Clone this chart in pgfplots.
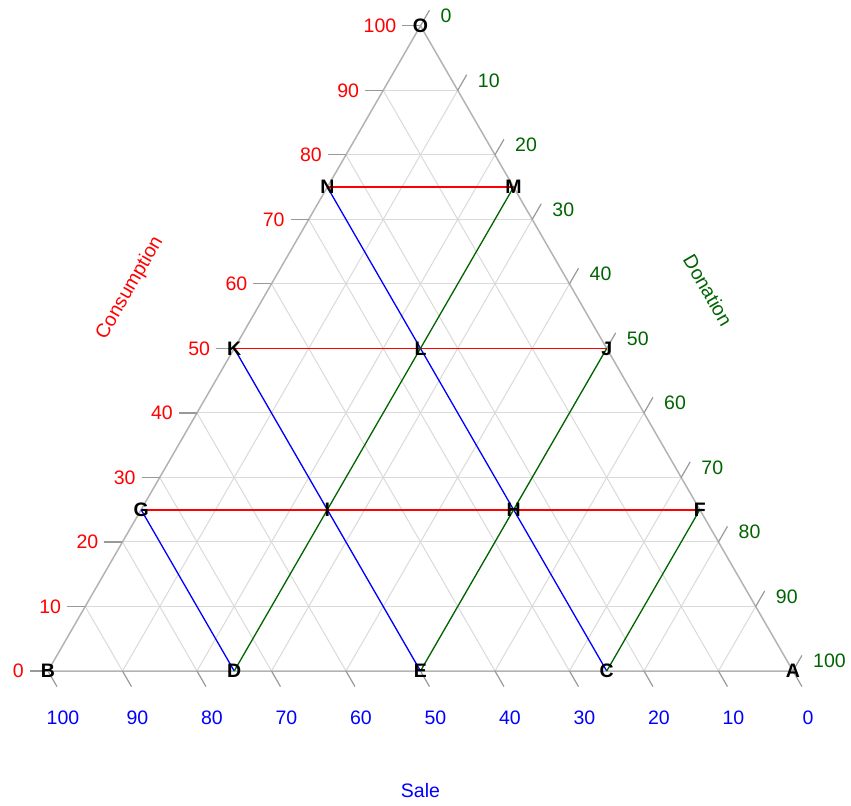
\documentclass[border=0pt]{standalone}
\usepackage{pgfplots}
\usepackage{pgfplotstable}
\pgfplotsset{compat=1.18}
\usepackage{fontspec}
\setmainfont{Liberation Sans}

\definecolor{dgreen}{HTML}{006400}
\definecolor{edgegray}{HTML}{B3B3B3}
\definecolor{gridgray}{HTML}{DADADA}
\definecolor{tickgray}{HTML}{999999}
\definecolor{pred}{HTML}{FF0000}
\definecolor{pblue}{HTML}{0000FF}

% ternary (sale, consumption, donation) -> cartesian; B = (0,0), A = (100,0)
\pgfplotsset{
  /pgfplots/table/tern/.style={
    x expr=\thisrow{don}+0.5*\thisrow{cons},
    y expr=0.8660254*\thisrow{cons}},
}

\pgfplotstableread{
pt sale cons don
A  0   0   100
B  100 0   0
O  0   100 0
C  25  0   75
D  75  0   25
E  50  0   50
F  0   25  75
G  75  25  0
H  25  25  50
I  50  25  25
J  0   50  50
K  50  50  0
L  25  50  25
M  0   75  25
N  25  75  0
}\pointtable

\begin{document}
\fontsize{19.5bp}{23bp}\selectfont
\begin{tikzpicture}
\begin{axis}[
  hide axis, clip=false,
  x=7.45bp, y=7.45bp,
  xmin=-6.44, xmax=107.79, ymin=-17.99, ymax=90.07,
]
\path (axis cs:-6.44,-17.99) rectangle (axis cs:107.79,90.07);

% grid lines every 10 units
\pgfplotsinvokeforeach{10,20,...,90}{
  \draw[gridgray, line width=1bp] (axis cs:{#1/2},{0.8660254*#1}) -- (axis cs:{100-#1/2},{0.8660254*#1});
  \draw[gridgray, line width=1bp] (axis cs:{100-#1},0) -- (axis cs:{50-#1/2},{0.8660254*(100-#1)});
  \draw[gridgray, line width=1bp] (axis cs:{#1},0) -- (axis cs:{50+#1/2},{0.8660254*(100-#1)});
}

% triangle edges
\draw[edgegray, line width=1.5bp] (axis cs:0,0) -- (axis cs:100,0) -- (axis cs:50,86.60254) -- cycle;

% ticks and tick labels
\pgfplotsinvokeforeach{0,10,...,100}{
  \draw[tickgray, line width=1.2bp] (axis cs:{#1/2},{0.8660254*#1}) -- ([xshift=-18bp]axis cs:{#1/2},{0.8660254*#1});
  \node[anchor=east, inner sep=0pt, text=pred] at ([xshift=-24bp]axis cs:{#1/2},{0.8660254*#1}) {#1};
  \draw[tickgray, line width=1.2bp] (axis cs:{100-#1},0) -- ([shift={(9bp,-15.6bp)}]axis cs:{100-#1},0);
  \node[text=pblue, inner sep=0pt] at ([shift={(15bp,-47bp)}]axis cs:{100-#1},0) {#1};
  \draw[tickgray, line width=1.2bp] (axis cs:{50+#1/2},{0.8660254*(100-#1)}) -- ([shift={(9bp,15.6bp)}]axis cs:{50+#1/2},{0.8660254*(100-#1)});
  \node[text=dgreen, anchor=west, inner sep=0pt] at ([shift={(20bp,10bp)}]axis cs:{50+#1/2},{0.8660254*(100-#1)}) {#1};
}

% axis titles
\node[text=pblue] at (axis cs:50,-16.1) {Sale};
\node[text=pred, rotate=60] at (axis cs:11.0,51.4) {Consumption};
\node[text=dgreen, rotate=-60] at (axis cs:88.6,51.1) {Donation};

% constant consumption
\addplot[pred, line width=1.6bp] table[tern] {
sale cons don
25 75 0
0 75 25
};
\addplot[pred, line width=1.6bp] table[tern] {
sale cons don
50 50 0
0 50 50
};
\addplot[pred, line width=1.6bp] table[tern] {
sale cons don
75 25 0
0 25 75
};
% constant sale
\addplot[pblue, line width=1.3bp] table[tern] {
sale cons don
25 75 0
25 0 75
};
\addplot[pblue, line width=1.3bp] table[tern] {
sale cons don
50 50 0
50 0 50
};
\addplot[pblue, line width=1.3bp] table[tern] {
sale cons don
75 25 0
75 0 25
};
% constant donation
\addplot[dgreen, line width=1.3bp] table[tern] {
sale cons don
0 75 25
75 0 25
};
\addplot[dgreen, line width=1.3bp] table[tern] {
sale cons don
0 50 50
50 0 50
};
\addplot[dgreen, line width=1.3bp] table[tern] {
sale cons don
0 25 75
25 0 75
};

% point letters
\addplot[draw=none, mark=none, nodes near coords, point meta=explicit symbolic,
  nodes near coords style={anchor=center, inner sep=0pt, font=\bfseries, text=black}]
  table[tern, meta=pt] \pointtable;
\end{axis}
\end{tikzpicture}
\end{document}
